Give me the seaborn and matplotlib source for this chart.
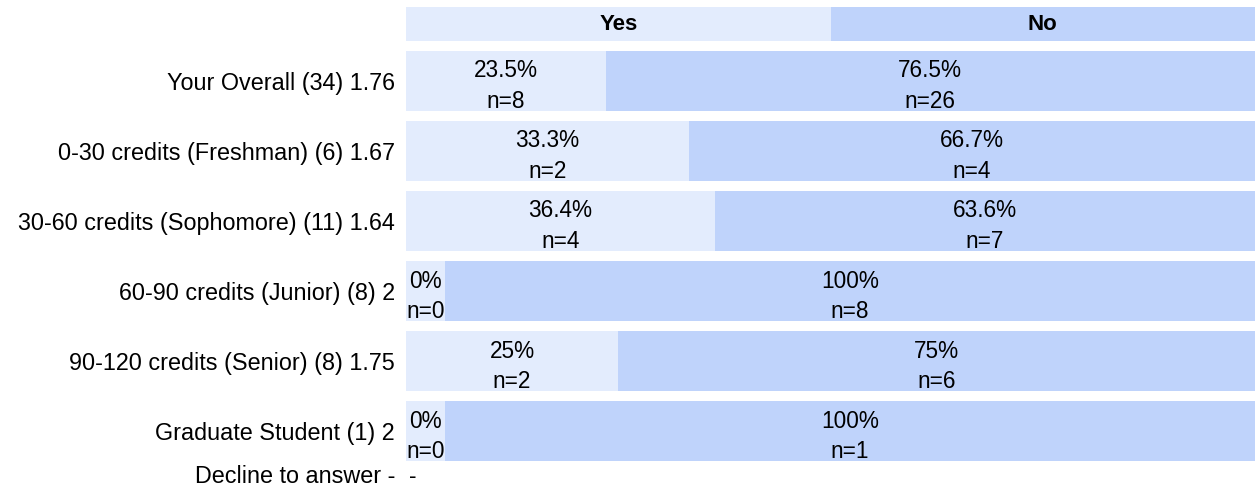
import matplotlib
matplotlib.use("Agg")
import matplotlib.pyplot as plt
import seaborn as sns
import pandas as pd

# ---- data ----
categories = [
    "Your Overall (34) 1.76",
    "0-30 credits (Freshman) (6) 1.67",
    "30-60 credits (Sophomore) (11) 1.64",
    "60-90 credits (Junior) (8) 2",
    "90-120 credits (Senior) (8) 1.75",
    "Graduate Student (1) 2",
]
yes_pct = [23.5, 33.3, 36.4, 0, 25, 0]
no_pct = [76.5, 66.7, 63.6, 100, 75, 100]
yes_n = [8, 2, 4, 0, 2, 0]
no_n = [26, 4, 7, 8, 6, 1]
headers = ["Yes", "No"]
header_share = [50, 50]
decline_label = "Decline to answer -"
decline_value = "-"

# ---- style ----
LIGHT = "#E3ECFD"
DARK = "#BFD3FB"
YES_MIN_WIDTH = 4.6  # minimum displayed width so a 0% label fits
FS = 16.3
FS_LABEL = 16.8

sns.set_style("white")
plt.rcParams["font.family"] = ["Liberation Sans", "DejaVu Sans"]

df = pd.DataFrame({
    "cat": categories,
    "yes": yes_pct,
    "no": no_pct,
    "yes_n": yes_n,
    "no_n": no_n,
})
df["total"] = df["yes"] + df["no"]
df["yes_disp"] = df["yes"].clip(lower=YES_MIN_WIDTH)

W, H = 1257, 498
fig = plt.figure(figsize=(W / 100, H / 100), dpi=100)

bar_kw = dict(orient="h", saturation=1, errorbar=None, linewidth=0, edgecolor="none")

# main axes
ax = fig.add_axes([406 / W, (H - 466) / H, 849 / W, 420 / H])
sns.barplot(data=df, x="total", y="cat", color=DARK, width=60 / 70, ax=ax, **bar_kw)
sns.barplot(data=df, x="yes_disp", y="cat", color=LIGHT, width=60 / 70, ax=ax, **bar_kw)
ax.set_xlim(0, 100)
ax.set_ylim(len(categories) - 0.5, -0.5)
ax.set_xticks([])
ax.set_xlabel("")
ax.set_ylabel("")
ax.tick_params(axis="y", length=0, pad=8, labelsize=FS_LABEL, labelcolor="black")
for s in ax.spines.values():
    s.set_visible(False)

def fmt(v):
    return f"{v:g}%"

TXT = dict(ha="center", va="baseline", fontsize=FS, color="black")
for i, r in df.iterrows():
    yd = r["yes_disp"]
    xc_yes = yd / 2
    xc_no = yd + (r["total"] - yd) / 2
    ax.text(xc_yes, i - 0.05, fmt(r["yes"]), **TXT)
    ax.text(xc_yes, i + 0.39, f"n={int(r['yes_n'])}", **TXT)
    ax.text(xc_no, i - 0.05, fmt(r["no"]), **TXT)
    ax.text(xc_no, i + 0.39, f"n={int(r['no_n'])}", **TXT)

# decline row (no data)
ydec = len(categories) - 0.343
ax.annotate(decline_label, xy=(0, ydec), xycoords=ax.get_yaxis_transform(),
            xytext=(-8, 0), textcoords="offset points", ha="right", va="center",
            fontsize=FS_LABEL, color="black", annotation_clip=False)
ax.text(0.3, ydec, decline_value, ha="left", va="center", fontsize=FS,
        color="black", clip_on=False)

# header axes
hax = fig.add_axes([406 / W, (H - 41) / H, 849 / W, 34 / H])
hdf = pd.DataFrame({"row": ["h"], "total": [sum(header_share)], "first": [header_share[0]]})
sns.barplot(data=hdf, x="total", y="row", color=DARK, width=1.0, ax=hax, **bar_kw)
sns.barplot(data=hdf, x="first", y="row", color=LIGHT, width=1.0, ax=hax, **bar_kw)
hax.set_xlim(0, 100)
hax.set_ylim(0.5, -0.5)
hax.set_xticks([])
hax.set_yticks([])
hax.set_xlabel("")
hax.set_ylabel("")
for s in hax.spines.values():
    s.set_visible(False)
left = 0
for h, share in zip(headers, header_share):
    hax.text(left + share / 2, 0, h, ha="center", va="center", fontsize=16,
             fontweight="bold", color="black")
    left += share

fig.savefig("out.png", dpi=100)
